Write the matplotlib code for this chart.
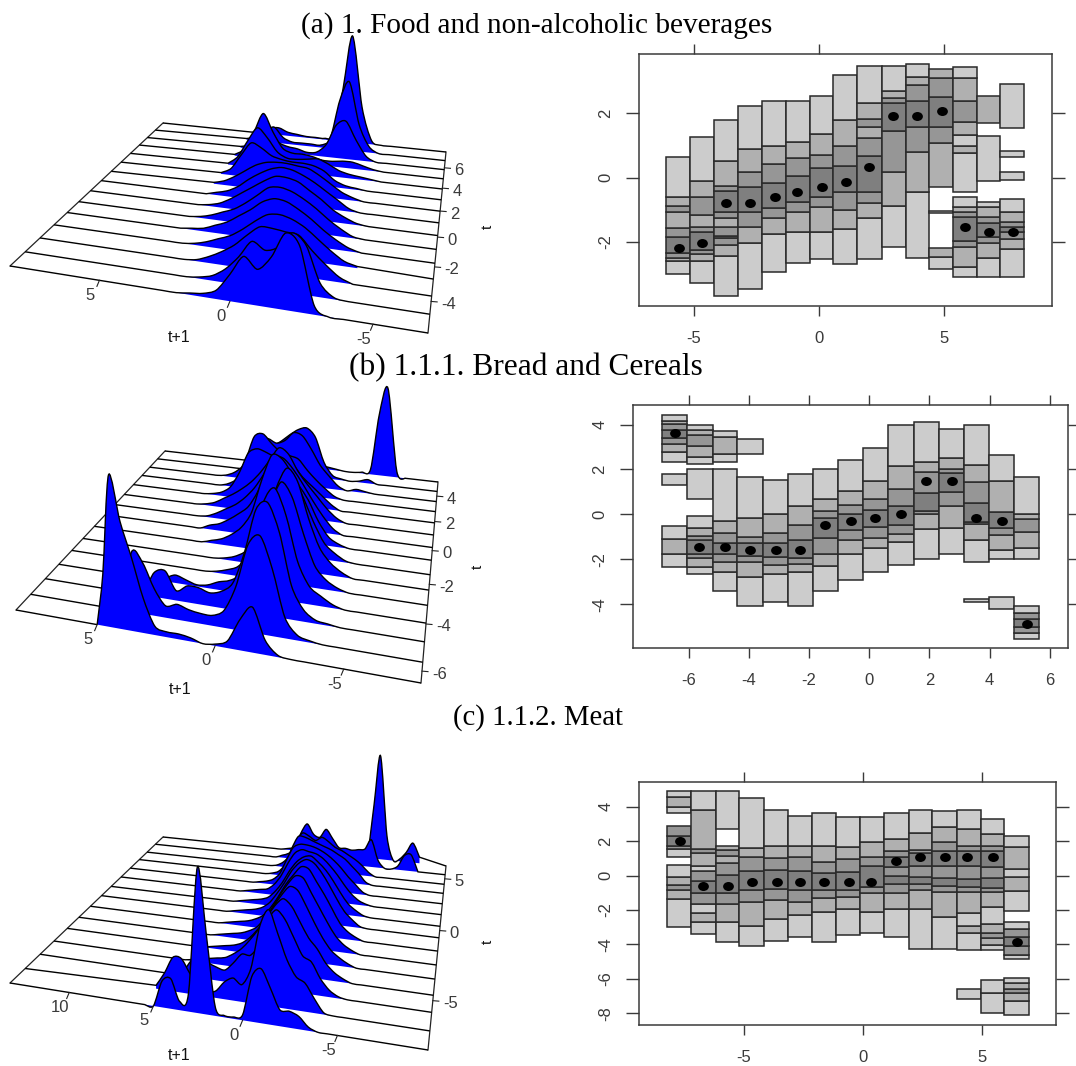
import numpy as np
import matplotlib
matplotlib.use("Agg")
import matplotlib.pyplot as plt
from matplotlib.path import Path
from matplotlib.patches import PathPatch
from matplotlib.markers import MarkerStyle
from matplotlib.transforms import Affine2D

plt.rcParams["axes.unicode_minus"] = False
W, H = 1076, 1066
SANS = "Liberation Sans"
SERIF = "Liberation Serif"
INK = "#3a3a3a"
SHADES = {1: "#cccccc", 2: "#b0b0b0", 3: "#969696", 4: "#7f7f7f"}

titles = ["(a) 1. Food and non-alcoholic beverages", "(b) 1.1.1. Bread and Cereals", "(c) 1.1.2. Meat"]

# ---------- panel a: conditional modes and HDR bands ----------
a_bins = [-6.10,-5.15,-4.18,-3.24,-2.29,-1.32,-0.36,0.57,1.53,2.50,3.46,4.39,5.33,6.32,7.22,8.19]
a_mode_x = [-5.59,-4.67,-3.71,-2.74,-1.77,-0.86,0.11,1.06,1.99,2.95,3.92,4.89,5.81,6.77,7.73]
a_mode_y = [-2.20,-2.03,-0.78,-0.78,-0.61,-0.44,-0.30,-0.14,0.34,1.93,1.93,2.07,-1.55,-1.71,-1.71]
a_edges = [
 [-3.01,-2.59,-2.49,-2.36,-1.86,-1.58,-1.08,-0.90,-0.59,0.65],
 [-3.27,-2.60,-2.38,-2.25,-1.68,-1.55,-1.18,-0.61,-0.12,1.26],
 [-3.69,-2.44,-2.10,-1.89,-1.82,-1.55,-1.25,-1.08,-0.41,-0.26,0.52,1.78],
 [-3.48,-2.03,-1.55,-1.06,-0.30,0.16,0.88,2.24],
 [-2.94,-1.76,-1.25,-0.94,-0.18,0.42,0.99,2.40],
 [-2.67,-1.71,-1.08,-0.77,0.06,0.62,1.12,2.40],
 [-2.54,-1.71,-0.92,-0.61,0.29,0.69,1.36,2.55],
 [-2.70,-1.59,-1.01,-0.44,0.35,0.99,1.78,3.18],
 [-2.54,-1.25,-0.80,-0.44,0.68,1.23,1.59,1.82,2.32,3.49],
 [-2.17,-0.90,0.17,1.46,2.32,2.47,2.71,3.49],
 [-2.51,-0.44,0.81,1.59,2.40,2.89,3.13,3.53],
 [-2.85,-2.46,-2.18,-1.11,-1.04,-0.30,1.07,1.59,2.50,3.10,3.38],
 [-3.11,-2.77,-2.17,-1.99,-1.24,-1.08,-0.92,-0.61,-0.44,0.76,0.99,1.32,1.72,2.40,3.10,3.43],
 [-3.11,-2.49,-2.05,-1.86,-1.42,-1.24,-0.92,-0.75,-0.12,1.30,1.69,2.55],
 [-3.11,-2.23,-1.90,-1.71,-1.55,-1.37,-1.08,-0.68,-0.07,0.17,0.63,0.84,1.53,2.92],
]
a_shades = [
 [1,2,3,4,3,2,3,2,1],[1,2,3,4,3,2,3,2,1],[1,2,3,4,3,2,3,4,3,2,1],[1,2,3,4,3,2,1],
 [1,2,3,4,3,2,1],[1,2,3,4,3,2,1],[1,2,3,4,3,2,1],[1,2,3,4,3,2,1],
 [1,2,3,4,3,2,3,2,1],[1,2,3,4,3,2,1],[1,2,3,4,3,2,1],
 [1,2,0,1,0,2,3,4,3,2],[1,2,3,4,3,2,1,0,1,2,1,2,3,2,1],[1,2,3,4,3,2,1,0,1,0,2],
 [1,2,3,4,3,2,1,0,1,0,1,0,1],
]
a_grid = [-4,-3.5,-3,-2.5,-2,-1.5,-1,-.5,0,.5,1,1.5,2,2.5,3,3.5]
a_density = [
 [0,0,.05,.36,.42,.28,.20,.26,.15,.05,.02,.01,0,0,0,0],
 [0,.01,.08,.28,.34,.25,.22,.26,.16,.08,.03,.01,0,0,0,0],
 [0,.03,.09,.16,.24,.25,.26,.26,.2,.13,.08,.04,.01,0,0,0],
 [.01,.03,.08,.14,.2,.24,.26,.25,.2,.14,.09,.06,.03,.01,0,0],
 [0,.02,.06,.11,.17,.22,.26,.27,.24,.18,.13,.08,.05,.02,.01,0],
 [0,.01,.05,.1,.16,.21,.25,.27,.26,.2,.14,.09,.06,.03,.01,0],
 [0,.01,.04,.08,.14,.19,.24,.26,.26,.22,.17,.12,.07,.03,.01,0],
 [0,0,.02,.07,.12,.17,.21,.24,.25,.23,.19,.14,.08,.04,.02,0],
 [0,0,.02,.05,.1,.15,.19,.2,.21,.21,.2,.17,.12,.07,.03,.01],
 [0,0,.01,.02,.05,.11,.14,.15,.15,.16,.18,.23,.26,.16,.05,.01],
 [0,.01,.02,.03,.05,.09,.12,.11,.1,.1,.14,.24,.31,.2,.07,.01],
 [0,.01,.03,.05,.05,.04,.04,.06,.07,.07,.1,.22,.36,.2,.06,.01],
 [0,0,.04,.16,.3,.26,.1,.03,.02,.04,.05,.08,.19,.1,.03,.01],
 [0,0,.05,.22,.56,.4,.08,.02,.02,.02,.02,.05,.13,.08,.03,.01],
 [0,0,.03,.3,.89,.45,.05,.01,.01,.01,.02,.03,.06,.05,.02,0],
]

# ---------- panel b ----------
b_bins = [-6.91,-6.05,-5.19,-4.39,-3.55,-2.69,-1.86,-1.05,-0.20,0.63,1.50,2.31,3.14,3.99,4.80,5.65]
b_mode_x = [-6.45,-5.65,-4.80,-3.96,-3.10,-2.31,-1.46,-0.60,0.20,1.04,1.90,2.75,3.55,4.40,5.24]
b_mode_y = [3.64,-1.46,-1.46,-1.59,-1.59,-1.59,-0.47,-0.29,-0.14,0.04,1.51,1.51,-0.14,-0.29,-4.86]
b_edges = [
 [-2.35,-1.77,-1.11,-0.51,1.31,1.82,2.34,2.80,3.12,3.42,3.76,4.01,4.18,4.44],
 [-2.66,-2.32,-1.95,-1.77,-1.13,-0.94,-0.62,-0.07,0.70,2.04,2.25,2.57,3.05,3.55,3.76,3.97],
 [-3.42,-2.57,-2.10,-1.76,-1.28,-0.84,-0.27,2.04,2.34,2.68,3.46,3.70],
 [-4.07,-2.77,-2.10,-1.83,-1.28,-0.99,-0.14,1.67,2.71,3.36],
 [-3.88,-2.66,-2.25,-1.88,-1.28,-0.81,0.04,1.55],
 [-4.07,-2.57,-2.20,-1.92,-1.12,-0.48,0.36,1.82],
 [-3.42,-2.29,-1.74,-1.03,-0.14,0.17,0.70,2.01],
 [-2.92,-1.77,-1.12,-0.70,0.04,0.41,1.03,2.43],
 [-2.57,-1.51,-1.03,-0.57,0.20,0.70,1.51,2.95],
 [-2.25,-1.22,-0.85,-0.47,0.39,1.12,2.14,3.97],
 [-1.97,-0.66,0.02,0.17,0.97,1.88,2.34,4.10],
 [-1.77,-0.62,0.36,1.02,1.83,2.04,2.49,3.79],
 [-3.89,-3.75,-2.11,-1.12,-0.44,-0.35,0.51,1.45,2.19,3.97],
 [-4.21,-3.69,-1.97,-1.60,-0.91,-0.62,0.10,1.51,2.66],
 [-5.53,-5.29,-5.02,-4.67,-4.37,-4.07,-1.97,-1.51,-0.79,-0.22,0.04,1.68],
]
b_shades = [
 [1,2,1,0,1,0,1,2,3,4,3,2,1],[1,2,3,4,3,2,1,0,1,0,1,2,3,2,1],[1,2,3,4,3,2,1,0,1,2,1],
 [1,2,3,4,3,2,1,0,1],[1,2,3,4,3,2,1],[1,2,3,4,3,2,1],[1,2,3,4,3,2,1],[1,2,3,4,3,2,1],
 [1,2,3,4,3,2,1],[1,2,3,4,3,2,1],[1,2,3,4,3,2,1],[1,2,3,4,3,2,1],
 [1,0,1,2,3,4,3,2,1],[1,0,1,2,3,4,2,1],[1,3,4,3,1,0,1,2,3,2,1],
]
b_grid = [-6,-5.5,-5,-4.5,-4,-3.5,-3,-2.5,-2,-1.5,-1,-.5,0,.5,1,1.5,2,2.5,3,3.5,4,4.5,4.75,5]
b_density = [
 [0,0,0,0,0,0,0,.01,.08,.25,.17,.04,.01,0,.02,.03,.03,.05,.2,.42,.62,.88,.3,0],
 [0,0,0,0,0,.01,.03,.12,.38,.56,.5,.25,.1,.06,.06,.07,.09,.07,.16,.3,.36,.03,0,0],
 [0,0,0,0,.01,.02,.07,.2,.5,.67,.62,.35,.16,.1,.08,.1,.1,.06,.17,.15,.02,0,0,0],
 [0,0,0,0,.02,.06,.11,.25,.52,.68,.58,.28,.12,.07,.05,.02,.01,.03,.05,.02,0,0,0,0],
 [0,0,0,0,.02,.06,.14,.33,.55,.64,.48,.27,.14,.06,.03,.01,0,0,0,0,0,0,0,0],
 [0,0,0,0,.03,.08,.17,.35,.58,.66,.52,.28,.15,.07,.03,.01,0,0,0,0,0,0,0,0],
 [0,0,0,0,.01,.05,.11,.24,.4,.54,.64,.66,.48,.25,.14,.08,.04,.02,0,0,0,0,0,0],
 [0,0,0,0,0,.02,.06,.16,.3,.4,.5,.55,.5,.32,.2,.14,.09,.05,.03,0,0,0,0,0],
 [0,0,0,0,0,0,.04,.12,.22,.33,.43,.5,.5,.37,.26,.18,.12,.08,.04,.01,0,0,0,0],
 [0,0,0,0,0,0,.03,.09,.17,.25,.34,.46,.5,.4,.3,.22,.16,.11,.07,.03,.01,0,0,0],
 [0,0,0,0,0,0,0,.04,.1,.16,.22,.3,.33,.35,.38,.4,.36,.2,.08,.03,.01,0,0,0],
 [0,0,0,0,0,0,0,.02,.07,.13,.2,.28,.3,.32,.38,.45,.42,.22,.07,.02,0,0,0,0],
 [0,0,0,0,.01,.02,0,.03,.1,.18,.3,.4,.42,.35,.32,.35,.34,.22,.1,.04,.01,0,0,0],
 [0,0,0,0,.03,.01,0,.01,.03,.13,.33,.4,.38,.33,.27,.22,.13,.05,.01,0,0,0,0,0],
 [0,.05,.73,.5,.04,.01,0,0,.01,.02,.03,.03,.02,.02,.01,0,0,0,0,0,0,0,0,0],
]

# ---------- panel c ----------
c_bins = [-8.25,-7.21,-6.19,-5.19,-4.17,-3.13,-2.12,-1.14,-0.13,0.90,1.94,2.92,3.94,4.96,5.95,6.97]
c_mode_x = [-7.70,-6.72,-5.69,-4.67,-3.63,-2.66,-1.64,-0.60,0.36,1.39,2.41,3.45,4.40,5.46,6.48]
c_mode_y = [1.98,-0.59,-0.59,-0.36,-0.36,-0.36,-0.36,-0.36,-0.36,0.82,1.05,1.05,1.05,1.05,-3.84]
c_edges = [
 [-2.97,-1.38,-0.84,-0.55,-0.07,0.61,1.05,1.54,1.73,2.27,2.89,3.60,3.95,4.53,4.88],
 [-3.41,-2.68,-2.19,-1.65,-1.03,-0.30,0.28,0.57,1.29,1.54,3.80,4.88],
 [-3.84,-2.68,-1.65,-1.03,0.01,0.74,1.13,1.48,1.73,2.70,4.88],
 [-4.09,-2.91,-1.52,-0.84,0.26,1.05,1.57,4.47],
 [-3.78,-2.54,-1.42,-0.78,0.32,1.00,1.73,3.80],
 [-3.58,-2.29,-1.52,-0.84,0.26,1.05,1.73,3.45],
 [-3.84,-2.14,-1.32,-0.84,0.13,0.80,1.73,3.60],
 [-3.47,-1.94,-1.27,-0.84,0.18,0.94,1.67,3.37],
 [-3.33,-2.14,-1.03,-0.65,0.57,1.09,1.96,3.37],
 [-3.58,-1.94,-1.03,-0.51,-0.03,0.51,1.05,1.42,2.10,3.62],
 [-4.26,-1.94,-0.84,-0.51,-0.11,0.57,1.29,1.48,2.48,3.80],
 [-4.26,-2.43,-0.98,-0.61,-0.13,0.57,1.42,1.96,2.83,3.74],
 [-7.14,-6.58,-4.32,-3.33,-2.91,-2.19,-0.94,-0.65,-0.22,0.57,1.42,1.73,2.70,3.80],
 [-7.99,-6.79,-6.06,-4.32,-4.03,-3.64,-3.33,-2.81,-1.81,-0.98,-0.74,-0.16,0.51,1.42,1.73,2.41,3.29],
 [-8.09,-7.26,-6.83,-6.60,-6.25,-5.92,-4.86,-4.61,-4.09,-3.58,-3.10,-2.68,-2.08,-0.90,-0.07,0.38,1.63,2.31],
]
c_shades = [
 [1,2,3,2,1,0,1,3,4,3,0,1,2,1],[1,2,1,3,4,3,1,2,3,2,1],[1,2,3,4,3,2,3,2,0,1],
 [1,2,3,4,3,2,1],[1,2,3,4,3,2,1],[1,2,3,4,3,2,1],[1,2,3,4,3,2,1],[1,2,3,4,3,2,1],[1,2,3,4,3,2,1],
 [1,2,3,4,3,4,3,2,1],[1,2,3,4,3,4,3,2,1],[1,2,3,4,3,4,3,2,1],
 [1,0,1,2,1,2,3,4,3,4,3,2,1],[1,1,0,1,2,3,2,1,2,3,4,3,4,3,2,1],[1,2,3,2,1,0,1,3,4,3,1,0,1,2,1,2,1],
]
c_grid = [-7.5,-7,-6.5,-6,-5.5,-5,-4.5,-4,-3.5,-3,-2.5,-2,-1.5,-1,-.5,0,.5,1,1.5,2,2.5,3,3.5,4,4.5,5,5.5]
c_density = [
 [0,0,0,0,0,0,0,0,.02,.07,.09,.09,.2,.3,.25,.03,.01,.01,.05,.45,.82,.1,.05,.17,.15,0,0],
 [0,0,0,0,0,0,0,.01,.08,.16,.19,.28,.42,.55,.45,.2,.1,.13,.1,.04,.03,.06,.12,.2,.2,.1,.02],
 [0,0,0,0,0,0,.01,.04,.1,.19,.22,.32,.42,.47,.4,.25,.18,.18,.12,.07,.08,.1,.13,.1,.03,.01,0],
 [0,0,0,0,0,0,.02,.05,.1,.18,.24,.33,.42,.46,.41,.33,.25,.18,.12,.08,.05,.04,.03,.02,.01,0,0],
 [0,0,0,0,0,0,.02,.05,.09,.16,.25,.35,.44,.46,.4,.32,.23,.16,.1,.06,.04,.03,.02,.01,0,0,0],
 [0,0,0,0,0,0,.02,.05,.1,.18,.27,.36,.45,.46,.4,.32,.23,.15,.09,.06,.04,.03,.02,.01,0,0,0],
 [0,0,0,0,0,0,.02,.05,.1,.19,.28,.36,.44,.45,.39,.32,.23,.15,.09,.06,.04,.03,.02,.01,0,0,0],
 [0,0,0,0,0,0,.01,.05,.1,.18,.27,.35,.41,.43,.4,.34,.25,.17,.1,.06,.04,.03,.02,.01,0,0,0],
 [0,0,0,0,0,0,.01,.04,.08,.15,.23,.3,.35,.39,.38,.34,.27,.18,.11,.06,.04,.03,.02,.01,0,0,0],
 [0,0,0,0,0,0,.01,.03,.07,.13,.2,.26,.31,.34,.35,.36,.33,.25,.15,.08,.04,.03,.02,.01,0,0,0],
 [0,0,0,0,0,0,0,.02,.07,.12,.18,.23,.27,.3,.32,.33,.33,.3,.2,.09,.04,.02,.01,0,0,0,0],
 [0,0,0,0,0,0,0,.02,.08,.13,.18,.21,.24,.26,.28,.3,.32,.32,.22,.09,.03,.01,0,0,0,0,0],
 [0,0,0,0,0,0,0,.03,.08,.12,.15,.18,.2,.24,.27,.24,.27,.29,.22,.1,.04,.01,0,0,0,0,0],
 [0,.13,.12,.03,0,0,.06,.22,.14,.13,.12,.13,.13,.2,.27,.2,.22,.3,.22,.09,.04,.02,0,0,0,0,0],
 [.05,.16,.08,.02,0,.2,.86,.45,.05,.02,.03,.04,.05,.05,.05,.04,.03,.04,.04,.03,.02,.01,0,0,0,0,0],
]

# ---------- layout (pixels) ----------
fig = plt.figure(figsize=(W/100, H/100), dpi=100, facecolor="white")
canvas = fig.add_axes([0, 0, 1, 1])
canvas.set_xlim(0, W); canvas.set_ylim(H, 0); canvas.axis("off")

for txt, x, y, fs in zip(titles, [301, 349, 453], [26, 368, 718], [21.1, 22.6, 20.7]):
    canvas.text(x, y, txt, family=SERIF, fontsize=fs, color="black", ha="left", va="center")


def homography(fl, fr, br, bl):
    # maps (u, v) in the unit square to the four floor corners
    A, b = [], []
    for (u, v), (px, py) in zip([(0, 0), (1, 0), (1, 1), (0, 1)], [fl, fr, br, bl]):
        A.append([u, v, 1, 0, 0, 0, -u*px, -v*px]); b.append(px)
        A.append([0, 0, 0, u, v, 1, -u*py, -v*py]); b.append(py)
    s = np.linalg.solve(np.array(A, float), np.array(b, float))
    return np.append(s, 1).reshape(3, 3)


class Persp:
    def __init__(self, corners, xr, tr, scale):
        self.M = homography(*corners)
        self.xr, self.tr, self.scale = xr, tr, scale

    def __call__(self, x, t, z=0.0):
        x, t, z = np.broadcast_arrays(np.asarray(x, float), np.asarray(t, float), np.asarray(z, float))
        u = (self.xr[0]-x)/(self.xr[0]-self.xr[1])
        v = (t-self.tr[0])/(self.tr[1]-self.tr[0])
        X = self.M[0, 0]*u+self.M[0, 1]*v+self.M[0, 2]
        Y = self.M[1, 0]*u+self.M[1, 1]*v+self.M[1, 2]
        w = self.M[2, 0]*u+self.M[2, 1]*v+1
        return X/w, Y/w - z*self.scale/w


def smooth_vertices(px, py):
    pts = np.column_stack([px, py])
    verts, codes = [pts[0]], [Path.LINETO]
    for i in range(len(pts)-1):
        a = pts[max(i-1, 0)]; b = pts[i]; c = pts[i+1]; d = pts[min(i+2, len(pts)-1)]
        verts += [b+(c-a)/7, c-(d-b)/7, c]
        codes += [Path.CURVE4]*3
    return verts, codes


def ridge_panel(corners, xr, tr, grid, density, ts, xticks, yticks, xlab, ylab):
    P = Persp(corners, xr, tr, 500/3)
    grid = np.asarray(grid, float)[::-1]
    frame = [((xr[0], tr[0]), (xr[0], tr[1])), ((xr[1], tr[0]), (xr[1], tr[1]))]
    for (x0, t0), (x1, t1) in frame:
        sx, sy = P([x0, x1], [t0, t1])
        canvas.plot(sx, sy, color="#222222", lw=0.9, zorder=1)
    z0 = 2
    for t, dens in list(zip(ts, density))[::-1]:
        z = np.asarray(dens, float)[::-1]
        sx, sy = P(grid, t, z)
        v, c = smooth_vertices(sx, sy)
        lx, ly = P(xr[0], t)
        rx, ry = P(xr[1], t)
        bx, by = P(grid, t)
        poly_v = [np.array([bx[0], by[0]])]+v+[np.array([bx[-1], by[-1]])]
        poly_c = [Path.MOVETO]+c+[Path.LINETO]
        canvas.add_patch(PathPatch(Path(poly_v+[poly_v[0]], poly_c+[Path.CLOSEPOLY]),
                                   fc="#0000ff", ec="none", zorder=z0))
        line_v = [np.array([float(lx), float(ly)])]+v+[np.array([float(rx), float(ry)])]
        line_c = [Path.MOVETO]+c+[Path.LINETO]
        canvas.add_patch(PathPatch(Path(line_v, line_c), fc="none", ec="black", lw=1.0, zorder=z0+0.5))
        z0 += 1
    for xt in xticks:
        sx, sy = P(xt, tr[0])
        canvas.plot([sx, sx-2.5], [sy, sy+6], color="#222222", lw=0.8, zorder=60)
        canvas.text(sx-9, sy+15, f"{xt:g}", family=SANS, fontsize=12, color=INK, ha="center", va="center", zorder=60)
    for yt in yticks:
        sx, sy = P(xr[1], yt)
        canvas.plot([sx, sx+6], [sy, sy+0.5], color="#222222", lw=0.8, zorder=60)
        canvas.text(sx+10, sy+3, f"{yt:g}", family=SANS, fontsize=12, color=INK, ha="left", va="center", zorder=60)
    canvas.text(*xlab, "t+1", family=SANS, fontsize=11.5, color="#111111", ha="center", va="center")
    canvas.text(*ylab, "t", family=SANS, fontsize=11, color="#111111", rotation=90, ha="center", va="center")


ridge_panel([(10, 266), (428, 333), (446, 152), (163, 123)], (8.7, -6.8), (-5.59, 7.73),
            a_grid, a_density, a_mode_x, [5, 0, -5], [-4, -2, 0, 2, 4, 6], (179, 337), (488, 227))
ridge_panel([(16, 610), (421, 683), (438, 482), (165, 451)], (8.7, -7.8), (-6.45, 5.24),
            b_grid, b_density, b_mode_x, [5, 0, -5], [-6, -4, -2, 0, 2, 4], (180, 690), (478, 567))
ridge_panel([(10, 983), (428, 1050), (446, 866), (163, 837)], (13.7, -9.5), (-7.70, 6.48),
            c_grid, c_density, c_mode_x, [10, 5, 0, -5], [-5, 0, 5], (179, 1055), (488, 942))

DOT = MarkerStyle("o", transform=Affine2D().scale(1.2, 1.0))


def hdr_panel(box, xlim, ylim, xticks, yticks, bins, edges, shades, mx, my):
    l, t, r, b = box
    ax = fig.add_axes([l/W, 1-b/H, (r-l)/W, (b-t)/H])
    for i in range(len(edges)):
        e = np.asarray(edges[i]); s = shades[i]
        for k in range(len(s)):
            if s[k] == 0:
                continue
            ax.bar(bins[i], e[k+1]-e[k], width=bins[i+1]-bins[i], bottom=e[k], align="edge",
                   color=SHADES[s[k]], edgecolor="#2a2a2a", linewidth=1.1, zorder=2)
    ax.scatter(mx, my, s=42, color="black", zorder=4, linewidths=0, marker=DOT)
    ax.set_xlim(*xlim); ax.set_ylim(*ylim)
    ax.set_xticks(xticks); ax.set_yticks(yticks)
    ax.tick_params(axis="x", which="both", top=True, bottom=True, length=7.2, width=1, color=INK,
                   labelsize=12, labelcolor=INK, pad=11)
    ax.tick_params(axis="y", which="both", left=True, right=True, length=9.5, width=1, color=INK,
                   labelsize=12, labelcolor=INK, pad=9)
    for lb in ax.get_xticklabels()+ax.get_yticklabels():
        lb.set_family(SANS)
    for lb in ax.get_yticklabels():
        lb.set_rotation(90); lb.set_va("center")
    for sp in ax.spines.values():
        sp.set_color(INK); sp.set_linewidth(1.1)
    ax.set_facecolor("white")


hdr_panel((639, 54.3, 1051.7, 305.7), (-7.18, 9.28), (-3.99, 3.84), [-5, 0, 5], [-2, 0, 2],
          a_bins, a_edges, a_shades, a_mode_x, a_mode_y)
hdr_panel((633.3, 405, 1067.7, 647.7), (-7.85, 6.60), (-5.93, 4.87), [-6, -4, -2, 0, 2, 4, 6], [-4, -2, 0, 2, 4],
          b_bins, b_edges, b_shades, b_mode_x, b_mode_y)
hdr_panel((639.3, 781.7, 1055.7, 1025), (-9.40, 8.11), (-8.67, 5.44), [-5, 0, 5], [-8, -6, -4, -2, 0, 2, 4],
          c_bins, c_edges, c_shades, c_mode_x, c_mode_y)

fig.savefig("out.png", dpi=100, facecolor="white")
